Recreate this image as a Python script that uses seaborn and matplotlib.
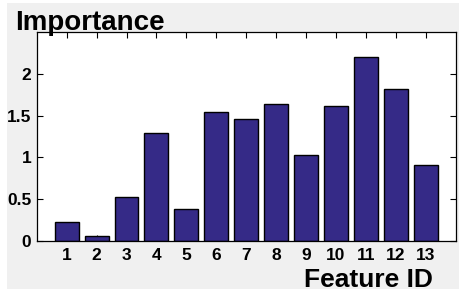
import numpy as np
import pandas as pd
import seaborn as sns
import matplotlib
matplotlib.use('Agg')
import matplotlib.pyplot as plt
from matplotlib.patches import Rectangle

# valeurs
feature_ids = [1, 2, 3, 4, 5, 6, 7, 8, 9, 10, 11, 12, 13]
importance = [0.22, 0.055, 0.52, 1.29, 0.38, 1.55, 1.46, 1.64, 1.03, 1.62, 2.20, 1.82, 0.91]
y_ticks = [0, 0.5, 1, 1.5, 2]
y_tick_labels = ['0', '0.5', '1', '1.5', '2']

df = pd.DataFrame({'feature': feature_ids, 'importance': importance})

sns.set_style('ticks')
plt.rcParams['font.family'] = ['Liberation Sans', 'DejaVu Sans']
plt.rcParams['font.weight'] = 'bold'
plt.rcParams['text.color'] = 'black'

fig = plt.figure(figsize=(4.59, 2.93), dpi=100, facecolor='white')
# fond gris comme la fenetre d'origine
fig.patches.append(Rectangle((7 / 459, 4 / 293), 452 / 459, 286 / 293,
                             transform=fig.transFigure, facecolor='#f0f0f0',
                             edgecolor='none', zorder=-10))

ax = fig.add_axes([0.080, 0.1785, 0.9129, 0.711])
ax.set_facecolor('white')

sns.barplot(data=df, x='feature', y='importance', native_scale=True,
            color='#352a87', saturation=1, width=0.8,
            edgecolor='black', linewidth=1, ax=ax)

ax.set_xlim(0, 14)
ax.set_ylim(0, 2.5)
ax.set_xticks(feature_ids)
ax.set_xticklabels([str(i) for i in feature_ids])
ax.set_yticks(y_ticks)
ax.set_yticklabels(y_tick_labels)

ax.tick_params(direction='in', length=4, width=0.8, top=True, right=True,
               labelsize=12.5, colors='black', labelcolor='black')
ax.tick_params(axis='x', pad=5)
ax.tick_params(axis='y', pad=4)
for lab in ax.get_xticklabels() + ax.get_yticklabels():
    lab.set_fontweight('bold')

for s in ax.spines.values():
    s.set_color('black')
    s.set_linewidth(0.9)

ax.set_xlabel('')
ax.set_ylabel('')
fig.text(15 / 459, 1 - 29.5 / 293, 'Importance', fontsize=20, fontweight='bold',
         color='black', ha='left', va='baseline')
fig.text(433 / 459, 1 - 287 / 293, 'Feature ID', fontsize=19, fontweight='bold',
         color='black', ha='right', va='baseline')

fig.savefig('out.png', dpi=100, facecolor=fig.get_facecolor())
